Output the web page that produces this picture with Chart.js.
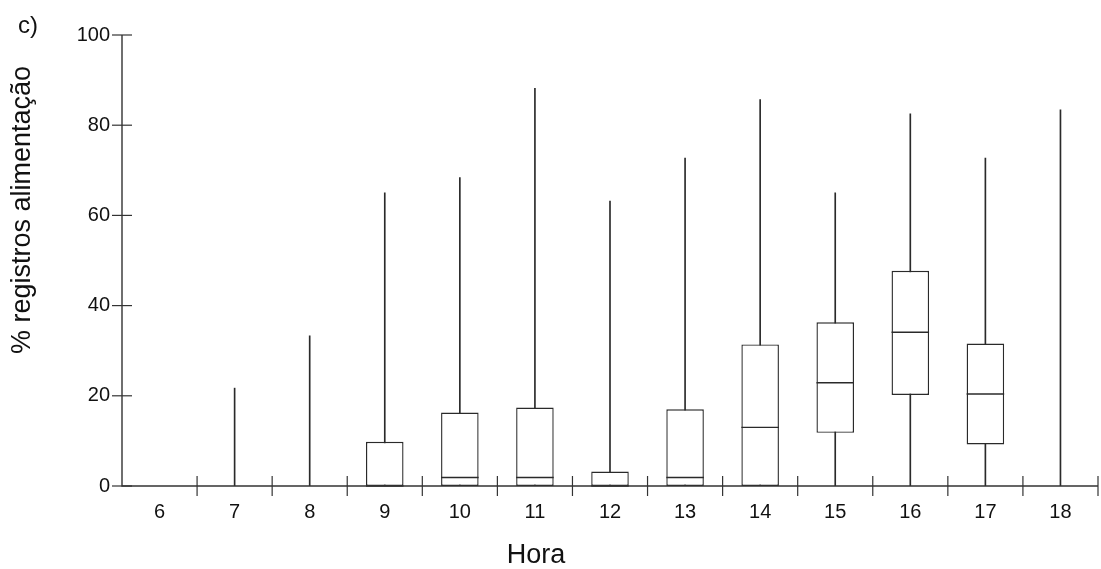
<!DOCTYPE html>
<html>
<head>
<meta charset="utf-8">
<script src="https://cdn.jsdelivr.net/npm/chart.js@4.4.1/dist/chart.umd.min.js"></script>
<style>
  html, body { margin: 0; padding: 0; background: #ffffff; }
  #wrap { width: 1101px; height: 569px; }
</style>
</head>
<body>
<div id="wrap"><canvas id="c" width="1101" height="569"></canvas></div>
<script>
// ---- data ----
const hours = ['6','7','8','9','10','11','12','13','14','15','16','17','18'];
const whiskerLow  = [0, 0, 0, 0, 0, 0, 0, 0, 0, 0, 0, 0, 0];
const q1          = [0, 0, 0, 0, 0, 0, 0, 0, 0, 11.8, 20.2, 9.2, 0];
const median      = [0, 0, 0, 0, 1.9, 1.9, 0, 1.9, 13.0, 22.9, 34.1, 20.4, 0];
const q3          = [0, 0, 0, 9.8, 16.3, 17.4, 3.2, 17.0, 31.4, 36.3, 47.7, 31.6, 0];
const whiskerHigh = [0, 21.7, 33.3, 65.0, 68.4, 88.2, 63.2, 72.7, 85.7, 65.0, 82.5, 72.7, 83.4];
const yTickValues = [0, 20, 40, 60, 80, 100];
const panelLabel = 'c)';
const yTitle = '% registros alimentação';
const xTitle = 'Hora';

const FONT = "'Liberation Sans', Arial, sans-serif";
const INK = '#2a2a2a';

const whiskerData = hours.map((h, i) => whiskerHigh[i] > whiskerLow[i] ? [whiskerLow[i], whiskerHigh[i]] : null);
const boxData = hours.map((h, i) => q3[i] > q1[i] ? [q1[i], q3[i]] : null);

const boxExtras = {
  id: 'boxExtras',
  afterDatasetsDraw(chart) {
    const ctx = chart.ctx;
    const x = chart.scales.x, y = chart.scales.y;
    const area = chart.chartArea;
    const meta = chart.getDatasetMeta(1);
    ctx.save();
    // medians
    ctx.strokeStyle = INK;
    ctx.lineWidth = 1.4;
    meta.data.forEach((el, i) => {
      if (!boxData[i]) return;
      const half = el.width / 2;
      const yy = y.getPixelForValue(median[i]);
      ctx.beginPath();
      ctx.moveTo(el.x - half, yy);
      ctx.lineTo(el.x + half, yy);
      ctx.stroke();
    });
    // axis lines
    ctx.strokeStyle = '#333333';
    ctx.lineWidth = 1.4;
    ctx.beginPath();
    ctx.moveTo(area.left, y.getPixelForValue(100));
    ctx.lineTo(area.left, area.bottom);
    ctx.lineTo(area.right, area.bottom);
    ctx.stroke();
    // y ticks crossing the axis
    ctx.lineWidth = 1.2;
    yTickValues.forEach(v => {
      const yy = y.getPixelForValue(v);
      ctx.beginPath();
      ctx.moveTo(area.left - 10, yy);
      ctx.lineTo(area.left + 10, yy);
      ctx.stroke();
    });
    // x ticks at category boundaries, crossing the axis
    const step = x.getPixelForValue(1) - x.getPixelForValue(0);
    for (let i = 0; i < hours.length; i++) {
      const xx = x.getPixelForValue(i) + step / 2;
      ctx.beginPath();
      ctx.moveTo(xx, area.bottom - 10);
      ctx.lineTo(xx, area.bottom + 10);
      ctx.stroke();
    }
    ctx.restore();
  },
  afterDraw(chart) {
    const ctx = chart.ctx;
    ctx.save();
    ctx.fillStyle = '#111111';
    ctx.textBaseline = 'alphabetic';
    // panel label
    ctx.font = '24px ' + FONT;
    ctx.textAlign = 'left';
    ctx.fillText(panelLabel, 18, 33);
    // x title
    ctx.font = '27px ' + FONT;
    ctx.textAlign = 'center';
    ctx.fillText(xTitle, 536, 563);
    // y title
    ctx.translate(30, 210);
    ctx.rotate(-Math.PI / 2);
    ctx.textAlign = 'center';
    ctx.fillText(yTitle, 0, 0);
    ctx.restore();
  }
};

new Chart(document.getElementById('c'), {
  type: 'bar',
  data: {
    labels: hours,
    datasets: [
      {
        label: 'whiskers',
        data: whiskerData,
        backgroundColor: INK,
        borderWidth: 0,
        barThickness: 1,
        grouped: false,
        order: 2
      },
      {
        label: 'boxes',
        data: boxData,
        backgroundColor: '#ffffff',
        borderColor: INK,
        borderWidth: 1.4,
        borderSkipped: false,
        barPercentage: 0.5,
        categoryPercentage: 1,
        grouped: false,
        order: 1
      }
    ]
  },
  options: {
    responsive: false,
    animation: false,
    devicePixelRatio: 1,
    layout: { padding: { left: 0, top: 35, right: 3, bottom: 0 } },
    plugins: { legend: { display: false }, tooltip: { enabled: false }, title: { display: false } },
    scales: {
      x: {
        type: 'category',
        offset: true,
        grid: { display: false, drawTicks: false },
        border: { display: false },
        ticks: { color: '#111111', font: { family: FONT, size: 20 }, padding: 14, maxRotation: 0, autoSkip: false },
        afterFit(s) { s.height = 83; }
      },
      y: {
        min: 0, max: 100,
        grid: { display: false, drawTicks: false },
        border: { display: false },
        ticks: { stepSize: 20, color: '#111111', font: { family: FONT, size: 20 }, padding: 12 },
        afterFit(s) { s.width = 122; }
      }
    }
  },
  plugins: [boxExtras]
});
</script>
</body>
</html>
